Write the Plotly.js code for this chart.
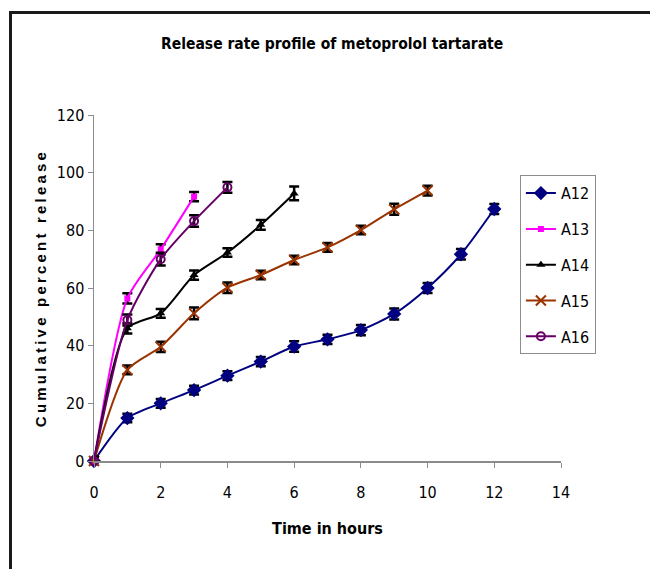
<!DOCTYPE html>
<html>
<head>
<meta charset="utf-8">
<script src="https://cdn.plot.ly/plotly-3.0.1.min.js"></script>
<style>
  html, body { margin: 0; padding: 0; background: #fff; overflow: hidden; }
  #frame { position: absolute; left: 9px; top: 11px; width: 700px; height: 620px; border: 3px solid #1a1a1a; box-sizing: border-box; }
  #chart { position: absolute; left: 0; top: 0; width: 650px; height: 569px; }
</style>
</head>
<body>
<div id="frame"></div>
<div id="chart"></div>
<script>
// Data
const seriesNames = ["A12", "A13", "A14", "A15", "A16"];
const timeA12 = [0, 1, 2, 3, 4, 5, 6, 7, 8, 9, 10, 11, 12];
const releaseA12 = [0, 14.9, 20.0, 24.6, 29.6, 34.5, 39.7, 42.2, 45.4, 51.0, 60.0, 71.7, 87.4];
const errA12 = [1.5, 1.5, 1.5, 1.5, 1.5, 1.6, 1.8, 1.6, 1.8, 1.9, 1.7, 1.8, 1.7];
const timeA13 = [0, 1, 2, 3];
const releaseA13 = [0, 56.4, 73.4, 91.7];
const errA13 = [1.5, 1.8, 1.8, 1.6];
const timeA14 = [0, 1, 2, 3, 4, 5, 6];
const releaseA14 = [0, 46.0, 51.2, 64.5, 72.3, 81.9, 92.8];
const errA14 = [1.5, 1.8, 1.5, 1.6, 1.5, 1.7, 2.4];
const timeA15 = [0, 1, 2, 3, 4, 5, 6, 7, 8, 9, 10];
const releaseA15 = [0, 31.6, 39.6, 51.2, 60.1, 64.5, 69.7, 74.1, 80.1, 87.3, 93.8];
const errA15 = [1.5, 1.5, 1.8, 2.0, 1.8, 1.5, 1.5, 1.5, 1.5, 1.9, 1.7];
const timeA16 = [0, 1, 2, 3, 4];
const releaseA16 = [0, 48.9, 70.0, 83.2, 94.9];
const errA16 = [1.5, 1.9, 2.2, 2.0, 1.9];
const xTicks = [0, 2, 4, 6, 8, 10, 12, 14];
const yTicks = [0, 20, 40, 60, 80, 100, 120];

const FONT = '"DejaVu Sans Condensed", "Liberation Sans Narrow", "Arial Narrow", "Liberation Sans", Arial, sans-serif';

function mk(name, x, y, err, color, symbol, msize, mline) {
  return {
    type: 'scatter', mode: 'lines+markers', name: name, x: x, y: y,
    legendgroup: name,
    line: { color: color, width: 2, shape: 'spline', smoothing: 0.7 },
    marker: { color: color, symbol: symbol, size: msize, line: mline || { width: 0 } },
    error_y: { type: 'data', array: err, visible: true, color: '#000', thickness: 2.5, width: 5 },
    cliponaxis: false
  };
}

const traces = [
  mk(seriesNames[0], timeA12, releaseA12, errA12, '#000080', 'diamond', 11),
  mk(seriesNames[1], timeA13, releaseA13, errA13, '#FF00FF', 'square', 6),
  mk(seriesNames[2], timeA14, releaseA14, errA14, '#000000', 'triangle-up', 8),
  mk(seriesNames[3], timeA15, releaseA15, errA15, '#993300', 'x-thin', 10, { color: '#993300', width: 2 }),
  mk(seriesNames[4], timeA16, releaseA16, errA16, '#660066', 'circle-open', 8, { color: '#660066', width: 2 })
];

const layout = {
  width: 650, height: 569,
  margin: { l: 94, r: 89, t: 115, b: 108 },
  paper_bgcolor: 'rgba(0,0,0,0)', plot_bgcolor: 'rgba(0,0,0,0)',
  font: { family: FONT, color: '#000', size: 15 },
  title: { text: '<b>Release rate profile of metoprolol tartarate</b>', x: 0.511, xanchor: 'center', y: 0.923, yanchor: 'middle', font: { family: FONT, size: 15.5, color: '#000' } },
  xaxis: {
    range: [0, 14], tickvals: xTicks, ticktext: xTicks.map(String),
    showgrid: false, zeroline: false, showline: true, linecolor: '#8c8c8c', linewidth: 1.5,
    ticks: 'outside', ticklen: 5, tickcolor: '#8c8c8c', tickfont: { family: FONT, size: 16 },
    ticklabelstandoff: 11,
    title: { text: '<b>Time in hours</b>', font: { family: FONT, size: 16 }, standoff: 22 },
    fixedrange: true
  },
  yaxis: {
    range: [0, 120], tickvals: yTicks, ticktext: yTicks.map(String),
    showgrid: false, zeroline: false, showline: true, linecolor: '#8c8c8c', linewidth: 1.5,
    ticks: 'outside', ticklen: 5, tickcolor: '#8c8c8c', tickfont: { family: FONT, size: 16 },
    title: { text: '<b>Cumulative percent release</b>', font: { family: '"Liberation Sans", Arial, sans-serif', size: 15 }, standoff: 6 },
    fixedrange: true
  },
  showlegend: true,
  legend: {
    x: 0.912, y: 0.826, xanchor: 'left', yanchor: 'top',
    bordercolor: '#8c8c8c', borderwidth: 1, bgcolor: 'rgba(255,255,255,0)',
    font: { family: FONT, size: 16 }, traceorder: 'grouped', tracegroupgap: 12,
    itemwidth: 30
  }
};

Plotly.newPlot('chart', traces, layout, { displayModeBar: false, staticPlot: true }).then(function () {
  const t = document.querySelector('#chart .ytitle');
  if (t) t.style.letterSpacing = '3.2px';
});
</script>
</body>
</html>
